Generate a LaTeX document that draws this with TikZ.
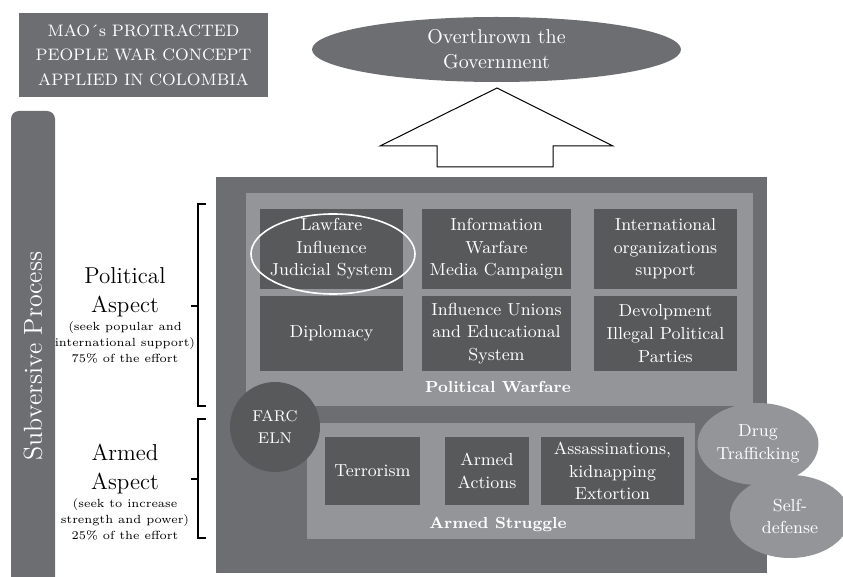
\documentclass[tikz,border=0pt]{standalone}
\usepackage{tikz}
\usetikzlibrary{shapes,positioning}
\definecolor{maogrey}{RGB}{109,110,113}
\definecolor{maodark}{RGB}{88,89,91}
\definecolor{maolight}{RGB}{147,149,152}
\newcommand{\titlefont}{\fontsize{8.3}{12.2}\selectfont}
\newcommand{\goalfont}{\fontsize{10}{12.5}\selectfont}
\newcommand{\sidefont}{\fontsize{13}{15}\selectfont}
\newcommand{\cellfont}{\fontsize{8.7}{11.3}\selectfont}
\newcommand{\labelfont}{\fontsize{8}{10}\selectfont\bfseries}
\newcommand{\actorfont}{\fontsize{7.8}{11}\selectfont}
\newcommand{\aspectfont}{\fontsize{11.5}{14.5}\selectfont}
\newcommand{\notefont}{\fontsize{5.9}{8}\selectfont}
\tikzstyle{titlebox} = [rectangle, fill=maogrey, text=white, align=center, inner sep=0pt, font=\titlefont]
\tikzstyle{goalellipse} = [ellipse, fill=maogrey, text=white, align=center, inner sep=0pt, font=\goalfont]
\tikzstyle{sidebar} = [rectangle, rounded corners=4pt, fill=maogrey, text=white, inner sep=0pt, font=\sidefont]
\tikzstyle{framebox} = [rectangle, fill=maogrey, inner sep=0pt]
\tikzstyle{warfarebox} = [rectangle, fill=maolight, inner sep=0pt]
\tikzstyle{cell} = [rectangle, fill=maodark, text=white, align=center, inner sep=0pt, font=\cellfont]
\tikzstyle{boxlabel} = [text=white, inner sep=0pt, font=\labelfont]
\tikzstyle{actor} = [circle, fill=maodark, text=white, align=center, inner sep=0pt, font=\actorfont]
\tikzstyle{support} = [ellipse, fill=maolight, text=white, align=center, inner sep=0pt, font=\cellfont]
\tikzstyle{aspecthead} = [align=center, inner sep=0pt, font=\aspectfont]
\tikzstyle{aspectnote} = [align=center, inner sep=0pt, font=\notefont]
\tikzstyle{bracket} = [line width=0.6pt]
\tikzstyle{bigarrow} = [draw=black, fill=white, line width=0.5pt, line join=miter]

\begin{document}
\begin{tikzpicture}[x=0.5pt, y=-0.5pt]
\useasboundingbox (0,0) rectangle (843,577);
% Title and goal
\node (title) [titlebox, minimum width=124.5pt, minimum height=42pt] at (143.5,55) {MAO\textasciiacute s PROTRACTED\\PEOPLE WAR CONCEPT\\APPLIED IN COLOMBIA};
\node (goal) [goalellipse, minimum width=184.5pt, minimum height=32.5pt] at (496.5,49.5) {Overthrown the\\Government};
\draw[bigarrow] (437,167) -- (437,146) -- (380,146) -- (497,88) -- (613,146) -- (553,146) -- (553,167) -- cycle;

% Left side
\node (subv) [sidebar, rotate=90, minimum width=245pt, minimum height=22pt] at (33,356) {Subversive Process};
\node (polhead) [aspecthead] at (125,292) {Political\\Aspect};
\node (polnote) [aspectnote, below=2pt of polhead] {(seek popular and\\international support)\\75\% of the effort};
\node (armhead) [aspecthead] at (125,469) {Armed\\Aspect};
\node (armnote) [aspectnote, below=2pt of armhead] {(seek to increase\\strength and power)\\25\% of the effort};

\coordinate (poltop) at (206,204);
\coordinate (polbot) at (206,406);
\coordinate (polmid) at (191,306);
\coordinate (armtop) at (206,419);
\coordinate (armbot) at (206,538);
\coordinate (armmid) at (191,479);
\draw[bracket] (poltop) -- (198,204) -- (198,406) -- (polbot);
\draw[bracket] (polmid) -- (198,306);
\draw[bracket] (armtop) -- (198,419) -- (198,538) -- (armbot);
\draw[bracket] (armmid) -- (198,479);

% Main frame
\node (frame) [framebox, minimum width=275.5pt, minimum height=198pt] at (491.5,375) {};
\node (polwar) [warfarebox, minimum width=253.5pt, minimum height=106.5pt] at (499.5,299.5) {};
\node (lawfare) [cell, minimum width=71.5pt, minimum height=40pt] at (331.5,249) {Lawfare\\Influence\\Judicial System};
\node (infowar) [cell, minimum width=74.5pt, minimum height=40pt] at (496.5,249) {Information\\Warfare\\Media Campaign};
\node (intorg) [cell, minimum width=71.5pt, minimum height=40pt] at (665.5,249) {International\\organizations\\support};
\node (diplo) [cell, minimum width=71.5pt, minimum height=37.5pt] at (331.5,333.5) {Diplomacy};
\node (unions) [cell, minimum width=74.5pt, minimum height=37.5pt] at (496.5,333.5) {Influence Unions\\and Educational\\System};
\node (parties) [cell, minimum width=71.5pt, minimum height=37.5pt] at (665.5,333.5) {Devolpment\\Illegal Political\\Parties};
\node (lawring) [ellipse, draw=white, line width=0.8pt, minimum width=82pt, minimum height=40pt, inner sep=0pt] at (333,254) {};
\node (polwarlbl) [boxlabel] at (498,387) {Political Warfare};

\node (armstr) [warfarebox, minimum width=194pt, minimum height=58pt] at (501,481) {};
\node (terror) [cell, minimum width=47.5pt, minimum height=34pt] at (372.5,471) {Terrorism};
\node (actions) [cell, minimum width=42pt, minimum height=34pt] at (487,471) {Armed\\Actions};
\node (assas) [cell, minimum width=71.5pt, minimum height=34pt] at (612.5,471) {Assassinations,\\kidnapping\\Extortion};
\node (armstrlbl) [boxlabel] at (498,525) {Armed Struggle};

\node (farc) [actor, minimum size=45pt] at (275,427) {FARC\\ELN};
\node (drug) [support, minimum width=60.5pt, minimum height=41pt] at (758,444) {Drug\\Trafficking};
\node (selfdef) [support, minimum width=60pt, minimum height=41.5pt] at (790,516.5) {Self-\\defense};
\end{tikzpicture}
\end{document}
